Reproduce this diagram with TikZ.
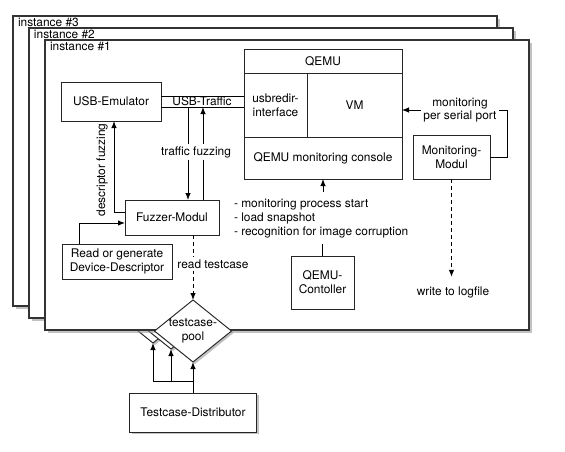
\documentclass[tikz,border=0pt]{standalone}
\usepackage{fontspec}
\setmainfont{TeX Gyre Heros}
\usetikzlibrary{shapes.geometric,shadows,arrows.meta}
\begin{document}
\begin{tikzpicture}[x=1pt,y=-1pt,inner sep=0pt,outer sep=0pt,line width=.95pt,
font=\fontsize{11.9}{13.8}\selectfont,>={Latex[length=7pt,width=5.5pt]},
frame/.style={draw=black!80,fill=white,rectangle,minimum width=484pt,minimum height=290pt,line width=1.1pt,
  drop shadow={shadow xshift=2.5pt,shadow yshift=-2.5pt,fill=black!40,opacity=.6}},
modblock/.style={draw=black!85,fill=white,rectangle,align=center},
pool/.style={draw=black!85,fill=white,diamond,minimum width=77pt,minimum height=62pt,
  drop shadow={shadow xshift=2pt,shadow yshift=-2pt,fill=black!40,opacity=.6}},
tag/.style={fill=white,inner sep=2.5pt,align=center}]

\useasboundingbox (0,0) rectangle (565,451);

\draw (255,161) node[frame] (inst3) {};
\draw (inst3.north west) ++(5,2) node[anchor=north west] (lbl3) {instance \#3};
\draw (153,312) node[pool] (pool3) {};
\draw (271,173) node[frame] (inst2) {};
\draw (inst2.north west) ++(5,2) node[anchor=north west] (lbl2) {instance \#2};
\draw (171,318) node[pool] (pool2) {};
\draw (287,185) node[frame] (inst1) {};
\draw (inst1.north west) ++(5,2) node[anchor=north west] (lbl1) {instance \#1};

\draw (111,101.5) node[modblock,minimum width=100pt,minimum height=39pt] (usbemu) {USB-Emulator};
\draw (323,61.25) node[modblock,minimum width=158pt,minimum height=24.5pt] (qemu) {QEMU};
\draw (275.5,105.25) node[modblock,minimum width=63pt,minimum height=63.5pt] (usbredir) {usbredir-\\interface};
\draw (354.5,105.25) node[modblock,minimum width=95pt,minimum height=63.5pt] (vm) {VM};
\draw (323,158) node[modblock,minimum width=158pt,minimum height=42pt] (console) {QEMU monitoring console};
\draw (172,217.5) node[modblock,minimum width=94pt,minimum height=35pt] (fuzzer) {Fuzzer-Modul};
\draw (117,261.5) node[modblock,minimum width=110pt,minimum height=35pt] (read) {Read or generate\\Device-Descriptor};
\draw (451.5,157) node[modblock,minimum width=77pt,minimum height=44pt] (mon) {Monitoring-\\Modul};
\draw (322.5,282.5) node[modblock,minimum width=63pt,minimum height=53pt] (ctrl) {QEMU-\\Contoller};
\draw (193,412.5) node[modblock,minimum width=127pt,minimum height=39pt,
  drop shadow={shadow xshift=2pt,shadow yshift=-2pt,fill=black!40,opacity=.6}] (distr) {Testcase-Distributor};
\draw (234,199.5) node[anchor=north west,align=left] (tasks) {- monitoring process start\\- load snapshot\\- recognition for image corruption};

\coordinate (trafA) at ([yshift=5.5pt]usbemu.east);
\coordinate (trafB) at ([yshift=-5.5pt]usbemu.east);
\draw (trafA) -- (trafA -| usbredir.west);
\draw (trafB) -- (trafB -| usbredir.west);
\draw (202,101.5) node (traffic) {USB-Traffic};
\draw[->] ([xshift=16pt]fuzzer.north |- trafB) -- ([xshift=16pt]fuzzer.north);
\draw[->] ([xshift=31pt]fuzzer.north) -- ([xshift=31pt]fuzzer.north |- trafB);
\draw (196,152) node[tag] (tfuzz) {traffic fuzzing};

\draw[->] ([yshift=5.5pt]fuzzer.west) -| ([xshift=3pt]usbemu.south);
\draw (102,170) node[rotate=90] (dfuzz) {descriptor fuzzing};
\draw[->] ([xshift=-38pt]read.north) |- ([yshift=-5.5pt]fuzzer.west);

\draw (193,331) node[pool,label={[align=center]center:testcase-\\pool}] (pool) {};
\draw[->,dash pattern=on 4pt off 3pt] ([xshift=21pt]fuzzer.south) -- (pool.north);
\draw (213,264) node[tag] (readtc) {read testcase};

\draw[->] (distr.north) -- (pool.south);
\coordinate (split) at ([yshift=12pt]distr.north);
\draw[->] (split) -| (pool3.south);
\draw[->] (split -| pool2.south) -- (pool2.south);

\draw[->] (mon.east) -- ++(17,0) |- ([yshift=-4.75pt]vm.east);
\draw (460,110) node[tag] (serial) {monitoring\\per serial port};
\draw (453,292) node (logfile) {write to logfile};
\draw[->,dash pattern=on 4pt off 3pt] (mon.south) -- ([yshift=9.5pt]logfile.north -| mon.south);

\draw[->] ([yshift=8pt]tasks.north -| console.south) -- (console.south);
\draw (ctrl.north) -- ++(0,-12);
\end{tikzpicture}
\end{document}
